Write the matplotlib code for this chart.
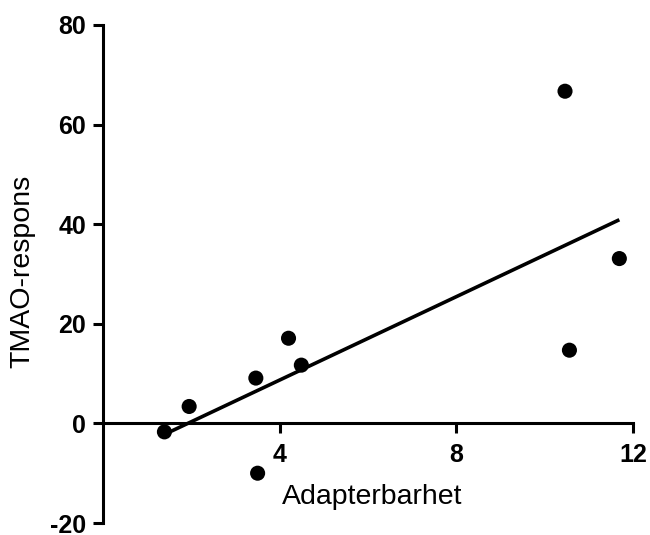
import numpy as np
import matplotlib
matplotlib.use('Agg')
import matplotlib.pyplot as plt

plt.rcParams['font.family'] = ['Liberation Sans', 'DejaVu Sans']
plt.rcParams['axes.unicode_minus'] = False

# measured values
adapterbarhet = [1.39, 1.95, 3.46, 3.50, 4.20, 4.49, 10.46, 10.56, 11.69]
tmao_respons = [-1.7, 3.4, 9.1, -10.0, 17.1, 11.7, 66.7, 14.7, 33.1]

x_ticks = [4, 8, 12]
y_ticks = [-20, 0, 20, 40, 60, 80]

x = np.array(adapterbarhet)
y = np.array(tmao_respons)

# linear regression over the data range
slope, intercept = np.polyfit(x, y, 1)
x_fit = np.array([x.min(), x.max()])
y_fit = slope * x_fit + intercept

fig = plt.figure(figsize=(6.5, 5.35), dpi=100)
ax = fig.add_axes([0.1585, 0.0224, 0.8154, 0.9309])

ax.plot(x_fit, y_fit, color='black', linewidth=2.6, solid_capstyle='butt', clip_on=False, zorder=3)
ax.scatter(x, y, s=118, color='black', edgecolors='none', clip_on=False, zorder=4)

ax.set_xlim(0, 12)
ax.set_ylim(-20, 80)
ax.set_xticks(x_ticks)
ax.set_yticks(y_ticks)

for side in ['top', 'right']:
    ax.spines[side].set_visible(False)
ax.spines['bottom'].set_position(('data', 0))
for side in ['left', 'bottom']:
    ax.spines[side].set_linewidth(2.2)
    ax.spines[side].set_capstyle('projecting')

ax.tick_params(axis='x', direction='out', length=7, width=2.2, pad=7)
ax.tick_params(axis='y', direction='out', length=7, width=2.2, pad=5)
for lab in ax.get_xticklabels() + ax.get_yticklabels():
    lab.set_fontsize(18)
    lab.set_fontweight('bold')

ax.set_xlabel('Adapterbarhet', fontsize=20.5)
ax.xaxis.set_label_coords(0.507, 0.039)
ax.xaxis.label.set_verticalalignment('baseline')

ax.set_ylabel('TMAO-respons', fontsize=20.5)
ax.yaxis.set_label_coords(-0.153, 0.505)
ax.yaxis.label.set_verticalalignment('center')

fig.savefig('out.png', dpi=100)
